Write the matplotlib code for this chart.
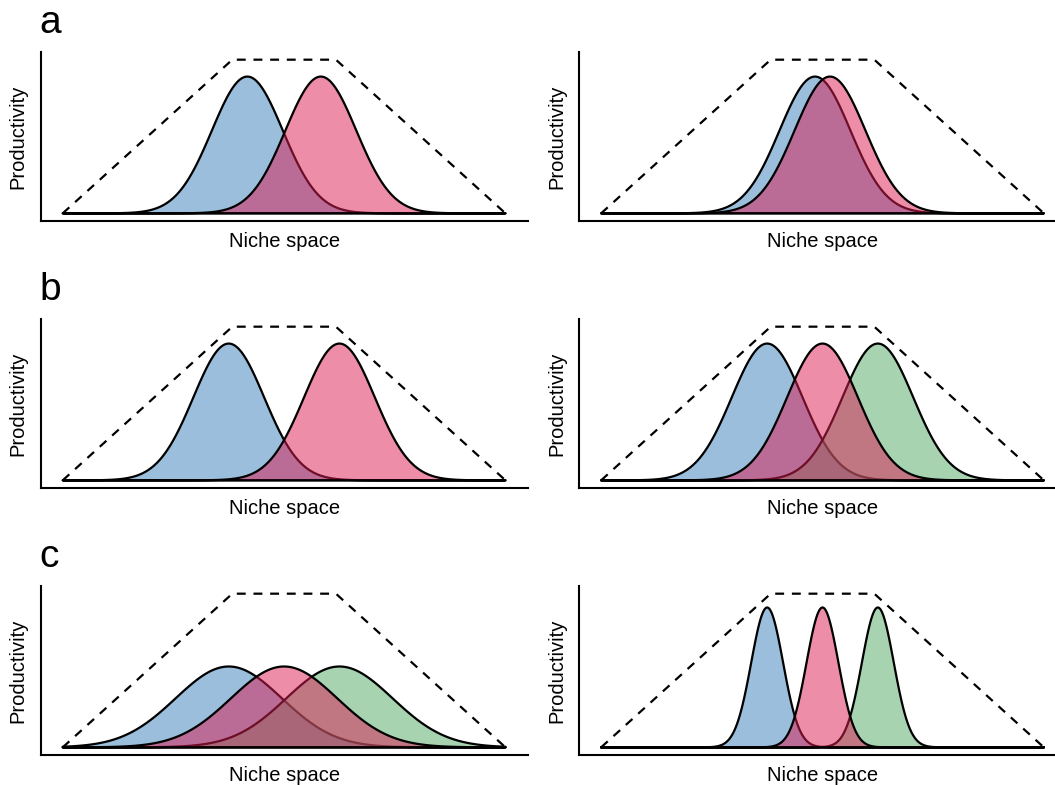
import numpy as np
import matplotlib.pyplot as plt

plt.rcParams['font.family'] = ['Liberation Sans', 'DejaVu Sans']

W, H = 1055, 785

# niche axis runs 0..1; the dashed envelope is the total available productivity
niche = np.linspace(0, 1, 800)
envelope_x = [0.0, 0.383, 0.617, 1.0]
envelope_y = [0.0, 1.0, 1.0, 0.0]

# species colours (left, middle, right optimum), filled at 50% alpha
species_colors = ['#377eb8', '#dc1c52', '#50a864']
# pink species is layered on top of the green one
draw_order = [0, 2, 1]

# species optima per panel (left, right) for each row
means_a = [[0.417, 0.583], [0.483, 0.517]]
means_b = [[0.375, 0.625], [0.375, 0.5, 0.625]]
means_c = [[0.375, 0.5, 0.625], [0.375, 0.5, 0.625]]

# niche breadth (sd) per panel
sds_a = [0.08, 0.08]
sds_b = [0.08, 0.08]
sds_c = [0.12, 0.036]

# peak productivity per panel
heights_a = [0.89, 0.89]
heights_b = [0.89, 0.89]
heights_c = [0.526, 0.91]

row_labels = ['a', 'b', 'c']
rows = [(means_a, sds_a, heights_a),
        (means_b, sds_b, heights_b),
        (means_c, sds_c, heights_c)]

# panel boxes in pixels
col_left = [40.6, 579.0]
panel_w = 487.0
row_top = [52.0, 319.0, 586.0]
panel_h = 169.0


def fx(x):
    return x / W


def fy(y):
    return 1 - y / H


fig = plt.figure(figsize=(W / 100, H / 100), dpi=100)

for r, (means, sds, heights) in enumerate(rows):
    top = row_top[r]
    fig.text(fx(39), fy(top - 19), row_labels[r], fontsize=28,
             ha='left', va='baseline')
    for c in range(2):
        left = col_left[c]
        ax = fig.add_axes([fx(left), fy(top + panel_h), panel_w / W, panel_h / H])

        ax.plot(envelope_x, envelope_y, color='black', lw=1.6,
                linestyle=(0, (4, 3.5)))
        for k in draw_order:
            if k >= len(means[c]):
                continue
            mu = means[c][k]
            dens = heights[c] * np.exp(-0.5 * ((niche - mu) / sds[c]) ** 2)
            ax.fill_between(niche, 0, dens, facecolor=species_colors[k],
                            alpha=0.5, edgecolor='none')
            ax.fill_between(niche, 0, dens, facecolor='none',
                            edgecolor='black', lw=1.6)

        ax.set_xlim(-0.05, 1.05)
        ax.set_ylim(-0.05, 1.05)
        ax.set_xticks([])
        ax.set_yticks([])
        for side in ['top', 'right']:
            ax.spines[side].set_visible(False)
        for side in ['left', 'bottom']:
            ax.spines[side].set_linewidth(1.5)
            ax.spines[side].set_color('black')

        fig.text(fx(left + panel_w / 2), fy(top + panel_h + 25.7), 'Niche space',
                 fontsize=14.5, ha='center', va='baseline')
        fig.text(fx(left - 17), fy(top + panel_h / 2), 'Productivity',
                 fontsize=14.5, ha='center', va='baseline', rotation=90,
                 rotation_mode='anchor')

fig.savefig('out.png', dpi=100)
